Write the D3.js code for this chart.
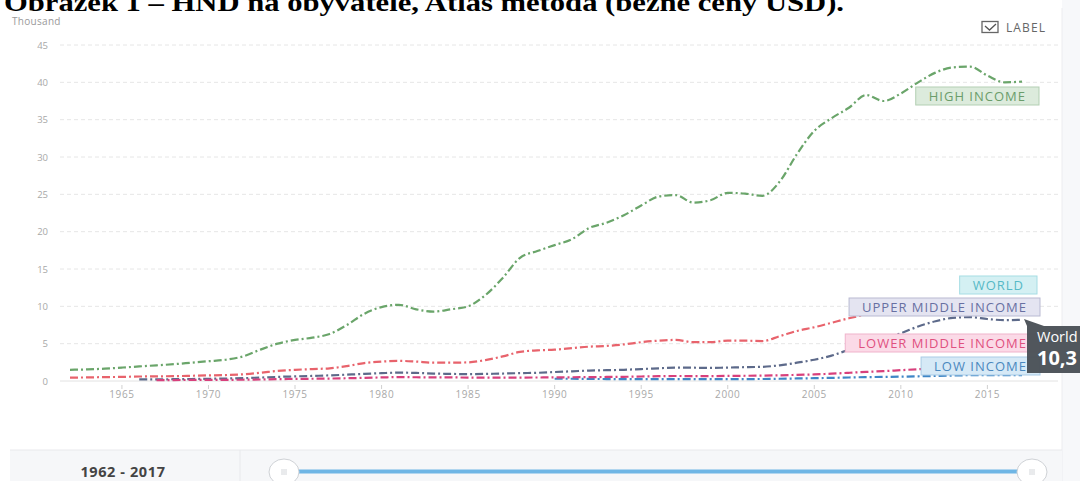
<!DOCTYPE html>
<html>
<head>
<meta charset="utf-8">
<script src="https://cdn.jsdelivr.net/npm/d3@7"></script>
<style>
  html, body { margin: 0; padding: 0; background: #fff; }
  svg { display: block; }
</style>
</head>
<body>
<svg id="chart" width="1080" height="481"></svg>
<script>
// ---------------- DATA ----------------
const years = d3.range(1962, 2018);
const yTicks = [0, 5, 10, 15, 20, 25, 30, 35, 40, 45];
const xTicks = [1965, 1970, 1975, 1980, 1985, 1990, 1995, 2000, 2005, 2010, 2015];

// values in thousand USD, 1962..2017 (null = no data)
const highIncome = [1.5,1.55,1.65,1.8,1.95,2.1,2.25,2.45,2.65,2.85,3.3,4.2,5.0,5.5,5.8,6.3,7.5,9.0,9.9,10.2,9.6,9.3,9.6,10.0,11.5,13.8,16.5,17.4,18.2,19.0,20.5,21.2,22.2,23.5,24.7,24.9,23.9,24.2,25.2,25.1,24.8,26.7,30.4,33.5,35.2,36.6,38.3,37.5,38.5,40.0,41.3,42.0,42.1,40.9,40.0,40.1];
const world = [0.45,0.48,0.52,0.55,0.6,0.62,0.65,0.7,0.75,0.8,0.9,1.1,1.35,1.5,1.6,1.7,2.0,2.4,2.6,2.7,2.6,2.45,2.45,2.5,2.8,3.3,3.9,4.1,4.2,4.4,4.6,4.7,4.9,5.2,5.4,5.5,5.2,5.2,5.4,5.4,5.35,6.0,6.7,7.2,7.8,8.4,8.9,9.2,9.5,10.1,10.5,10.8,10.9,10.5,10.2,10.3];
const upperMiddle = [null,null,null,null,0.22,0.22,0.24,0.27,0.3,0.33,0.38,0.46,0.55,0.62,0.68,0.75,0.85,0.95,1.05,1.12,1.08,1.0,0.95,0.92,0.95,1.0,1.05,1.1,1.2,1.3,1.4,1.45,1.5,1.6,1.7,1.8,1.78,1.75,1.8,1.85,1.9,2.1,2.45,2.85,3.4,4.2,5.1,5.7,6.4,7.3,8.0,8.45,8.55,8.3,8.15,8.2];
const lowerMiddle = [null,null,null,null,null,0.12,0.13,0.14,0.15,0.16,0.17,0.2,0.25,0.28,0.3,0.33,0.37,0.42,0.48,0.52,0.5,0.48,0.48,0.46,0.45,0.45,0.46,0.47,0.48,0.5,0.52,0.54,0.56,0.6,0.64,0.67,0.66,0.66,0.68,0.7,0.72,0.76,0.82,0.88,0.98,1.1,1.22,1.32,1.45,1.58,1.7,1.85,1.95,1.95,1.95,2.0];
const lowIncome = [null,null,null,null,null,null,null,null,null,null,null,null,null,null,null,null,null,null,null,null,null,null,null,null,null,null,null,null,0.3,0.3,0.28,0.26,0.24,0.24,0.25,0.26,0.26,0.25,0.25,0.26,0.27,0.3,0.34,0.38,0.42,0.47,0.52,0.55,0.58,0.63,0.68,0.73,0.78,0.79,0.78,0.78];

const seriesNames = ["HIGH INCOME", "WORLD", "UPPER MIDDLE INCOME", "LOWER MIDDLE INCOME", "LOW INCOME"];
const seriesValues = [highIncome, world, upperMiddle, lowerMiddle, lowIncome];
const lineColors = ["#6aa56a", "#e8636c", "#5d6a8a", "#d8407c", "#3f86c6"];

const titleText = "Obrázek 1 – HND na obyvatele, Atlas metoda (běžné ceny USD).";
const unitText = "Thousand";
const rangeText = "1962 - 2017";
const tooltipName = "World";
const tooltipValue = "10,3";

// ---------------- LAYOUT ----------------
const svg = d3.select("#chart");
const x = d3.scaleLinear().domain([1962, 2017]).range([70, 1022]);
const y = d3.scaleLinear().domain([0, 45]).range([381, 45]);

// title (top cut off as in source)
svg.append("text")
  .attr("x", 4).attr("y", 10.5)
  .attr("font-family", "Liberation Serif, Times New Roman, serif")
  .attr("font-weight", "bold").attr("font-size", 26)
  .attr("fill", "#000")
  .attr("textLength", 840).attr("lengthAdjust", "spacingAndGlyphs")
  .text(titleText);

svg.append("text")
  .attr("x", 12).attr("y", 24.5)
  .attr("font-family", "Open Sans, sans-serif").attr("font-size", 10)
  .attr("letter-spacing", 0.3)
  .attr("fill", "#9a9a9a").text(unitText);

// LABEL checkbox
const cb = svg.append("g");
cb.append("rect").attr("x", 982).attr("y", 21.5).attr("width", 16).attr("height", 11)
  .attr("fill", "#fff").attr("stroke", "#666").attr("stroke-width", 1.3);
cb.append("path").attr("d", "M985,26 L989.5,30 L996,24").attr("fill", "none")
  .attr("stroke", "#555").attr("stroke-width", 1.3);
cb.append("text").attr("x", 1006).attr("y", 31.5)
  .attr("font-family", "Open Sans, sans-serif").attr("font-size", 12)
  .attr("fill", "#666").attr("letter-spacing", 1.1).text("LABEL");

// right grey strip
svg.append("rect").attr("x", 1062).attr("y", 0).attr("width", 18).attr("height", 481).attr("fill", "#f7f8fa");
svg.append("line").attr("x1", 1062).attr("x2", 1062).attr("y1", 8).attr("y2", 481).attr("stroke", "#ececef");

// gridlines
const grid = svg.append("g");
yTicks.forEach(t => {
  grid.append("line")
    .attr("x1", 60).attr("x2", 1058).attr("y1", y(t)).attr("y2", y(t))
    .attr("stroke", t === 0 ? "#e2e2e2" : "#e6e6e6")
    .attr("stroke-dasharray", t === 0 ? null : "4,3")
    .attr("stroke-width", 1);
  grid.append("text")
    .attr("x", 48).attr("y", y(t) + 3.5).attr("text-anchor", "end")
    .attr("font-family", "Open Sans, sans-serif").attr("font-size", 9.5)
    .attr("fill", "#a8a8a8").text(t);
});

// x axis
const xa = svg.append("g");
xTicks.forEach(t => {
  xa.append("line").attr("x1", x(t)).attr("x2", x(t)).attr("y1", 385).attr("y2", 389)
    .attr("stroke", "#d0d0d0");
  xa.append("text").attr("x", x(t)).attr("y", 398).attr("text-anchor", "middle")
    .attr("font-family", "Open Sans, sans-serif").attr("font-size", 10)
    .attr("letter-spacing", 0.6)
    .attr("fill", "#a8a8a8").text(t);
});

// lines
const line = d3.line()
  .defined(d => d.v !== null)
  .x(d => x(d.yr)).y(d => y(d.v))
  .curve(d3.curveMonotoneX);

const drawOrder = [0, 1, 2, 4, 3];
drawOrder.forEach(i => {
  const pts = years.map((yr, k) => ({ yr, v: seriesValues[i][k] }));
  svg.append("path").datum(pts)
    .attr("d", line)
    .attr("fill", "none")
    .attr("stroke", lineColors[i])
    .attr("stroke-width", 2.2)
    .attr("stroke-dasharray", "8,3,2,3");
});

// labels
const labelStyle = [
  { fill: "#dcebdc", stroke: "#b3cfb3", text: "#6b9d6b", right: 1039, top: 87 },
  { fill: "#d4f0f3", stroke: "#a6dde4", text: "#56b9c6", right: 1037, top: 276 },
  { fill: "#e4e4f1", stroke: "#b9bad2", text: "#6870a2", right: 1040, top: 298 },
  { fill: "#fbdae7", stroke: "#f0b3cb", text: "#e0507f", right: 1040, top: 334 },
  { fill: "#d6e9f6", stroke: "#a9cbe6", text: "#4a88be", right: 1040, top: 357 }
];
seriesNames.forEach((name, i) => {
  const s = labelStyle[i];
  const g = svg.append("g");
  const rect = g.append("rect");
  const t = g.append("text")
    .attr("font-family", "Open Sans, sans-serif").attr("font-size", 13)
    .attr("letter-spacing", 1.0)
    .attr("fill", s.text).attr("text-anchor", "end")
    .attr("x", s.right - 13).attr("y", s.top + 14)
    .text(name);
  const w = t.node().getComputedTextLength() + 26;
  rect.attr("x", s.right - w).attr("y", s.top).attr("width", w).attr("height", 18)
    .attr("fill", s.fill).attr("stroke", s.stroke).attr("stroke-width", 1);
});

// tooltip
const tt = svg.append("g");
tt.append("path")
  .attr("d", "M1024,319 L1044,326 L1080,326 L1080,373 L1027,373 L1027,326 Z")
  .attr("fill", "#4a5056").attr("opacity", 0.96);
tt.append("text").attr("x", 1037).attr("y", 342)
  .attr("font-family", "Open Sans, sans-serif").attr("font-size", 14.5)
  .attr("fill", "#fff").text(tooltipName);
tt.append("text").attr("x", 1037).attr("y", 365)
  .attr("font-family", "Open Sans, sans-serif").attr("font-size", 20).attr("font-weight", "bold")
  .attr("fill", "#fff").text(tooltipValue);

// bottom range panel
const bp = svg.append("g");
bp.append("rect").attr("x", 10).attr("y", 450).attr("width", 1052).attr("height", 31).attr("fill", "#f6f7f9");
bp.append("line").attr("x1", 10).attr("x2", 1062).attr("y1", 450).attr("y2", 450).attr("stroke", "#e8e9ec");
bp.append("line").attr("x1", 240).attr("x2", 240).attr("y1", 450).attr("y2", 481).attr("stroke", "#e8e9ec");
bp.append("text").attr("x", 123).attr("y", 476.5).attr("text-anchor", "middle")
  .attr("font-family", "Open Sans, sans-serif").attr("font-size", 14.5).attr("font-weight", "bold")
  .attr("letter-spacing", 0.6)
  .attr("fill", "#444").text(rangeText);

const sx = d3.scaleLinear().domain([1962, 2017]).range([284, 1032]);
bp.append("line").attr("x1", sx(1962)).attr("x2", sx(2017)).attr("y1", 471.5).attr("y2", 471.5)
  .attr("stroke", "#6fb6e5").attr("stroke-width", 4);
[1962, 2017].forEach(yr => {
  const h = bp.append("g");
  h.append("ellipse").attr("cx", sx(yr)).attr("cy", 472).attr("rx", 15).attr("ry", 13)
    .attr("fill", "#fff").attr("stroke", "#cfd2d6").attr("stroke-width", 1);
  [-2, 0, 2].forEach(dx => {
    h.append("line").attr("x1", sx(yr) + dx).attr("x2", sx(yr) + dx).attr("y1", 469).attr("y2", 475)
      .attr("stroke", "#c8cbd0").attr("stroke-width", 0.8);
  });
});
</script>
</body>
</html>
